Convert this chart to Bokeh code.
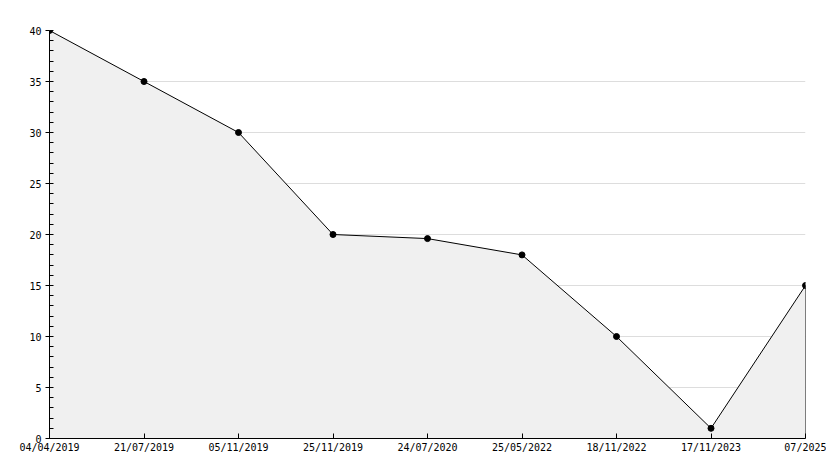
import numpy as np
from bokeh.plotting import figure
from bokeh.models import Range1d, FixedTicker, SingleIntervalTicker
from bokeh.embed import file_html
from bokeh.resources import INLINE

dates = ["04/04/2019", "21/07/2019", "05/11/2019", "25/11/2019", "24/07/2020",
         "25/05/2022", "18/11/2022", "17/11/2023", "07/2025"]
values = [40, 35, 30, 20, 19.6, 18, 10, 1, 15]

x = list(range(len(dates)))

p = figure(width=826, height=460, output_backend="svg", toolbar_location=None,
           x_range=Range1d(0, len(dates) - 1), y_range=Range1d(0, 40),
           min_border_left=49, min_border_right=21, min_border_top=30, min_border_bottom=22)
p.outline_line_color = None
p.background_fill_color = "white"

p.varea(x=x, y1=[0] * len(x), y2=values, fill_color="#f0f0f0")
p.line(x=x, y=values, line_color="black", line_width=1)
p.segment(x0=[x[-1]], y0=[0], x1=[x[-1]], y1=[values[-1]], line_color="black", line_width=1)
p.scatter(x=x, y=values, marker="circle", size=6, fill_color="black", line_color="black")

font = "DejaVu Sans Mono"
p.xaxis.ticker = FixedTicker(ticks=x)
p.xaxis.major_label_overrides = {i: d for i, d in enumerate(dates)}
p.xaxis.major_tick_in = 5
p.xaxis.major_tick_out = 0
p.xaxis.minor_tick_line_color = None
p.xaxis.major_label_standoff = 3

p.yaxis.ticker = SingleIntervalTicker(interval=5, num_minor_ticks=5)
p.yaxis.major_tick_in = 0
p.yaxis.major_tick_out = 4
p.yaxis.minor_tick_in = 4
p.yaxis.minor_tick_out = 0
p.yaxis.major_label_standoff = 4

for ax in (p.xaxis, p.yaxis):
    ax.axis_line_color = "black"
    ax.major_tick_line_color = "black"
    ax.major_label_text_font = font
    ax.major_label_text_font_size = "10px"
    ax.major_label_text_color = "black"
p.yaxis.minor_tick_line_color = "black"

p.xgrid.grid_line_color = None
p.ygrid.grid_line_color = "#dddddd"
p.ygrid.ticker = SingleIntervalTicker(interval=5)

open("out.html", "w").write(file_html(p, INLINE))
